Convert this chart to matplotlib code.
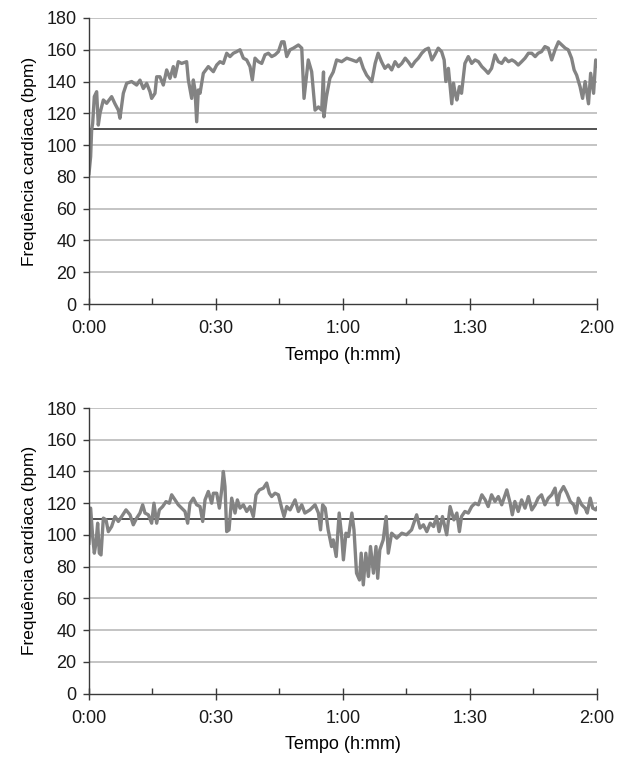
import numpy as np
import matplotlib.pyplot as plt

plt.rcParams['font.family'] = ['Liberation Sans', 'DejaVu Sans']

# tempo em minutos, frequência cardíaca em bpm
t_top = [0, 0.39, 0.63, 0.87, 1.26, 1.81, 2.2, 2.6, 3.39, 4.17, 5.35, 6.14, 6.93, 7.32,
         8.11, 8.9, 10.08, 11.26, 12.05, 12.84, 13.62, 14.41, 14.8, 15.59, 15.99, 16.77,
         17.56, 18.35, 19.14, 19.92, 20.32, 21.1, 21.89, 23.07, 23.47, 24.26, 24.65, 25.04,
         25.44, 25.83, 26.23, 27.01, 28.19, 29.38, 30.17, 30.95, 31.74, 32.53, 33.31, 34.1,
         34.89, 35.68, 36.47, 37.25, 38.04, 38.59, 39.22, 40.01, 40.8, 41.58, 42.37, 43.16,
         43.95, 44.74, 45.52, 46.08, 46.71, 47.5, 48.28, 49.47, 50.26, 50.8, 51.8, 52.6,
         53.4, 54.2, 54.97, 55.4, 55.5, 56.1, 56.9, 57.7, 58.5, 59.7, 60.9, 62.1, 63.2, 64.0,
         64.8, 65.6, 66.8, 67.6, 68.3, 69.1, 69.9, 70.7, 71.5, 72.3, 73.1, 73.9, 74.7, 75.4,
         76.2, 77.0, 77.8, 78.6, 79.4, 80.2, 81.0, 81.7, 82.5, 83.3, 83.9, 84.3, 84.9, 85.7,
         86.1, 86.5, 86.9, 87.5, 88.0, 88.8, 89.6, 90.4, 91.2, 92.0, 92.8, 93.6, 94.3, 95.1,
         95.9, 96.7, 97.5, 98.3, 99.1, 99.9, 100.6, 101.4, 102.2, 103.0, 103.8, 104.6, 105.4,
         106.1, 106.9, 107.7, 108.5, 109.3, 110.1, 110.9, 111.7, 112.5, 113.2, 114.0, 114.6,
         115.2, 116.0, 116.6, 117.2, 118.0, 118.5, 119.2, 119.7, 120.0]
hr_top = [82, 92.7, 109.5, 113.7, 130.5, 133.6, 112.6, 120, 128.4, 126.3, 130.5, 126, 122, 116.9,
          132.6, 138.9, 140, 137.8, 140.9, 135.6, 138.9, 133.6, 129.4, 132.6, 143, 143,
          137.8, 147.3, 142, 149.4, 143, 152.5, 151.4, 152.5, 141, 129.4, 141, 134.7,
          114.7, 134.7, 132.6, 145.2, 149.4, 146.2, 150.4, 152.5, 151.4, 157.8, 155.7, 157.8,
          158.8, 160, 154.7, 153.6, 149.4, 141, 154.7, 152.5, 151.4, 156.8, 157.8, 155.7,
          156.8, 158.8, 165, 165, 155.7, 160, 161, 163, 161, 129.4, 153.6, 146.2,
          122, 124, 122, 146, 117.8, 130.5, 142, 146, 153.6, 152.5, 154.7, 153.6, 152.5, 154.7,
          148.3, 144, 140, 151.4, 157.8, 152.5, 148.3, 150.4, 147.3, 152.5, 149.4, 151.4, 154.7, 152.5,
          149.4, 152.5, 154.7, 157.8, 160, 161, 153.6, 156.8, 161, 158.8, 153.6, 140, 148.3, 126,
          139, 132.6, 128.4, 136.8, 132.6, 151.4, 155.7, 151.4, 153.6, 152.5, 149.4, 147.3, 145.2, 148.3,
          156.8, 152.5, 151.4, 154.7, 152.5, 153.6, 152.5, 150.4, 152.5, 154.7, 157.8, 157.8, 155.7,
          157.8, 158.8, 162, 161, 153.6, 160, 165, 163, 161, 160, 154.7, 147.3,
          144, 136.8, 129.4, 140, 126, 145.2, 132.6, 153.6, 150]

t_bot = [0, 0.39, 0.87, 1.26, 1.65, 2.05, 2.44, 2.84, 3.39, 4.02, 4.57, 5.35, 6.14, 6.93,
         7.72, 8.74, 9.69, 10.47, 11.26, 12.05, 12.68, 13.23, 14.02, 14.8, 15.35, 15.99,
         16.62, 17.4, 18.19, 18.98, 19.53, 20.32, 21.1, 21.89, 22.68, 23.31, 23.86, 24.65,
         25.44, 26.23, 26.86, 27.41, 28.19, 28.98, 29.38, 30.17, 30.8, 31.35, 31.74, 32.13,
         32.53, 33.08, 33.71, 34.5, 35.05, 35.68, 36.47, 37.25, 38.04, 38.83, 39.46, 40.25,
         41.19, 41.98, 42.61, 43.16, 43.95, 44.74, 45.52, 46.08, 46.71, 47.5, 48.68, 49.47,
         50.26, 51.0, 52.2, 53.4, 54.2, 54.7, 55.2, 55.8, 56.5, 57.3, 57.7, 58.4, 59.1, 59.7,
         60.1, 60.7, 61.3, 62.1, 62.6, 63.2, 63.9, 64.3, 64.8, 65.4, 66.0, 66.5, 67.2, 67.8,
         68.2, 68.7, 69.5, 70.2, 70.7, 71.5, 72.7, 73.9, 75.0, 76.2, 77.4, 78.2, 79.0, 79.8,
         80.6, 81.4, 82.1, 82.7, 83.5, 84.5, 85.3, 86.2, 86.9, 87.5, 88.0, 88.8, 89.6, 90.4,
         91.2, 92.0, 92.8, 93.6, 94.3, 95.1, 95.9, 96.7, 97.5, 98.7, 99.5, 100.0, 100.6, 101.4,
         102.2, 103.0, 103.8, 104.6, 105.4, 106.1, 106.9, 107.7, 108.5, 109.3, 110.1, 110.7,
         111.2, 112.1, 112.9, 113.7, 114.5, 115.1, 115.6, 116.4, 117.2, 117.7, 118.4, 119.0,
         119.7, 120.0]
hr_bot = [94.8, 116.9, 99, 88.5, 94.8, 107.4, 88.5, 87.4, 110.6, 109.5, 102.1, 105.3, 111.6, 108.5,
          111.6, 115.8, 112.7, 106.4, 110.6, 113.8, 119, 113.8, 112.7, 107.4, 120, 107.4,
          115.8, 117.9, 121, 120, 125.3, 122.1, 119, 116.9, 114.8, 107.4, 120, 123.2,
          119, 117.9, 108.5, 122.1, 127.4, 120, 126.3, 126.3, 116.9, 128.4, 140, 130.5,
          102.1, 103.2, 123.2, 113.8, 122.1, 116.9, 119, 114.8, 117.9, 111.6, 125.3, 128.4,
          129.5, 132.7, 126.3, 124.2, 126.3, 125.3, 116.9, 111.6, 117.9, 115.8, 122.1, 114.8,
          119, 113.8, 115.8, 119, 113.8, 103.2, 119, 116.9, 103.2, 92.7, 96.9, 86.4, 113.8, 99,
          84.3, 101.1, 99, 113.8, 103.2, 75.9, 71.6, 88.5, 68.5, 88.5, 73.8, 92.7, 75.9, 92.7,
          72.7, 90.6, 96.9, 111.6, 88.5, 101.1, 98, 101.1, 100.1, 103.2, 112.7, 104.3, 106.4, 102.1,
          107.4, 105.3, 111.6, 102.1, 111.6, 100.1, 117.9, 109.5, 113.8, 102.1, 111.6, 114.8, 113.8, 117.9,
          120, 119, 125.3, 122.1, 117.9, 125.3, 121.1, 124.2, 119, 128.4, 120, 112.7, 121.1, 114.8,
          122.1, 116.9, 124.2, 115.8, 119, 123.2, 125.3, 119, 123.2, 125.3, 129.5, 119,
          126.3, 130.5, 126.3, 121.1, 119, 113.8, 123.2, 119, 116.9, 113.8, 123.2, 116.9,
          115.8, 117]

limiar = 110
y_ticks = np.arange(0, 181, 20)
x_major = [0, 30, 60, 90, 120]
x_minor = [15, 45, 75, 105]
x_labels = ['0:00', '0:30', '1:00', '1:30', '2:00']

line_color = '#838383'
grid_color = '#b4b4b4'
axis_color = '#3a3a3a'

fig = plt.figure(figsize=(6.24, 7.58), dpi=100)
ax_top = fig.add_axes([0.1426, 0.5989, 0.8141, 0.3774])
ax_bot = fig.add_axes([0.1426, 0.0850, 0.8141, 0.3767])


def style_axis(ax, t, hr):
    ax.set_xlim(0, 120)
    ax.set_ylim(0, 180)
    for v in y_ticks[1:]:
        ax.axhline(v, color=grid_color, lw=1.1, zorder=1)
    ax.axhline(limiar, color='#222222', lw=1.1, zorder=2)
    ax.plot(t, hr, color=line_color, lw=2.4, zorder=3, solid_joinstyle='round')
    for s in ['top', 'right']:
        ax.spines[s].set_visible(False)
    for s in ['left', 'bottom']:
        ax.spines[s].set_color(axis_color)
        ax.spines[s].set_linewidth(1.0)
        ax.spines[s].set_zorder(4)
    ax.set_yticks(y_ticks)
    ax.set_xticks(x_major, x_labels)
    ax.set_xticks(x_minor, minor=True)
    ax.tick_params(axis='y', direction='out', length=4, width=1, color=axis_color,
                   labelsize=13, pad=5)
    ax.tick_params(axis='x', which='major', direction='inout', length=9, width=1,
                   color=axis_color, labelsize=13, pad=7)
    ax.tick_params(axis='x', which='minor', direction='in', length=4, width=1, color=axis_color)
    ax.set_xlabel('Tempo (h:mm)', fontsize=13, labelpad=7)
    ax.set_ylabel('Frequência cardíaca (bpm)', fontsize=12.5, labelpad=7)
    for lab in ax.get_xticklabels() + ax.get_yticklabels():
        lab.set_color('#1a1a1a')


style_axis(ax_top, t_top, hr_top)
style_axis(ax_bot, t_bot, hr_bot)

fig.savefig('out.png', dpi=100)
